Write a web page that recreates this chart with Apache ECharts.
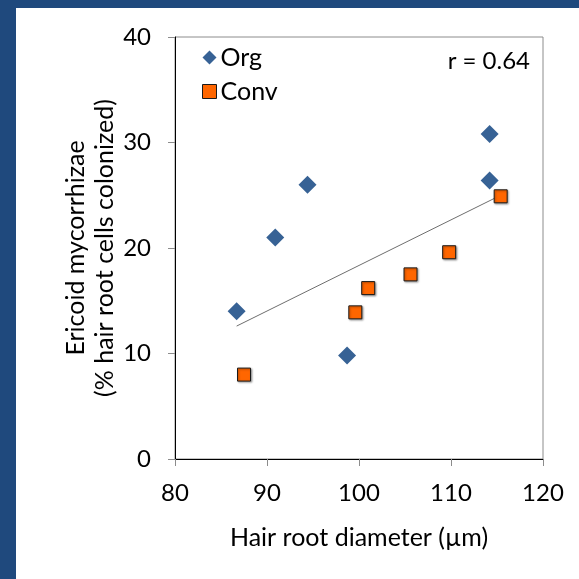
<!DOCTYPE html>
<html>
<head>
<meta charset="utf-8">
<script src="https://cdn.jsdelivr.net/npm/echarts@6/dist/echarts.min.js"></script>
<style>
  html, body { margin: 0; padding: 0; background: #fff; }
  #chart { width: 579px; height: 579px; }
</style>
</head>
<body>
<div id="chart"></div>
<script>
// Hair root diameter (µm) vs ericoid colonization (%)
const orgDiameter = [86.7, 90.9, 94.4, 98.7, 114.2, 114.2];
const orgColonized = [14.0, 21.0, 26.0, 9.8, 30.8, 26.4];
const convDiameter = [87.5, 99.6, 101.0, 105.6, 109.8, 115.4];
const convColonized = [8.0, 13.9, 16.2, 17.5, 19.6, 24.9];
// Fitted line endpoints (x, y)
const trendX = [86.7, 115.4];
const trendY = [12.6, 25.0];
const xTicks = [80, 90, 100, 110, 120];
const yTicks = [0, 10, 20, 30, 40];
const correlationText = 'r = 0.64';

const FONT = 'Lato, "Open Sans", sans-serif';
const zip = (a, b) => a.map((v, i) => [v, b[i]]);

const chart = echarts.init(document.getElementById('chart'), null, { renderer: 'canvas' });
chart.setOption({
  animation: false,
  backgroundColor: '#ffffff',
  textStyle: { fontFamily: FONT },
  grid: { left: 175, top: 37, right: 36, bottom: 120, show: true, borderColor: '#8c8c8c', borderWidth: 1 },
  xAxis: {
    type: 'value', min: xTicks[0], max: xTicks[xTicks.length - 1], interval: 10,
    axisLine: { show: true, lineStyle: { color: '#000', width: 1 } },
    axisTick: { show: true, length: 7, lineStyle: { color: '#8c8c8c' } },
    splitLine: { show: false },
    axisLabel: { color: '#000', fontSize: 24, fontFamily: FONT, margin: 22 },
    name: 'Hair root diameter (µm)', nameLocation: 'middle', nameGap: 66,
    nameTextStyle: { color: '#000', fontSize: 25, fontFamily: FONT }
  },
  yAxis: {
    type: 'value', min: yTicks[0], max: yTicks[yTicks.length - 1], interval: 10,
    axisLine: { show: true, lineStyle: { color: '#000', width: 1 } },
    axisTick: { show: true, length: 7, lineStyle: { color: '#8c8c8c' } },
    splitLine: { show: false },
    axisLabel: { color: '#000', fontSize: 24, fontFamily: FONT, margin: 24 },
    name: 'Ericoid mycorrhizae\n(% hair root cells colonized)', nameLocation: 'middle', nameGap: 56,
    nameMoveOverlap: false,
    nameRotate: 90,
    nameTextStyle: { color: '#000', fontSize: 25, fontFamily: FONT, lineHeight: 29 }
  },
  legend: {
    orient: 'vertical', left: 197, top: 40, itemGap: 9, itemWidth: 14, itemHeight: 14,
    textStyle: { color: '#000', fontSize: 25, fontFamily: FONT, padding: [0, 0, 0, -1] },
    data: [
      { name: 'Org', icon: 'diamond' },
      { name: 'Conv', icon: 'rect', itemStyle: { borderColor: '#1a1a1a', borderWidth: 1 } }
    ]
  },
  graphic: [
    { type: 'rect', shape: { x: 0, y: 0, width: 579, height: 8 }, style: { fill: '#1f497d' }, z: 100 },
    { type: 'rect', shape: { x: 0, y: 0, width: 16, height: 579 }, style: { fill: '#1f497d' }, z: 100 },
    { type: 'text', right: 49, top: 49, style: { text: correlationText, fill: '#000', fontSize: 24, fontFamily: FONT } }
  ],
  series: [
    {
      name: 'trend', type: 'line', data: zip(trendX, trendY), showSymbol: false, symbol: 'none',
      lineStyle: { color: '#6e6e6e', width: 1 }, z: 1, silent: true
    },
    {
      name: 'Org', type: 'scatter', data: zip(orgDiameter, orgColonized),
      symbol: 'diamond', symbolSize: [18, 18],
      itemStyle: { color: '#376295', opacity: 1 }, z: 3
    },
    {
      name: 'Conv', type: 'scatter', data: zip(convDiameter, convColonized),
      symbol: 'rect', symbolSize: 13,
      itemStyle: { color: '#ff6600', borderColor: '#1a1a1a', borderWidth: 1, opacity: 1,
        shadowColor: 'rgba(0,0,0,0.35)', shadowBlur: 2, shadowOffsetX: 1, shadowOffsetY: 1 }, z: 2
    }
  ]
});
</script>
</body>
</html>
